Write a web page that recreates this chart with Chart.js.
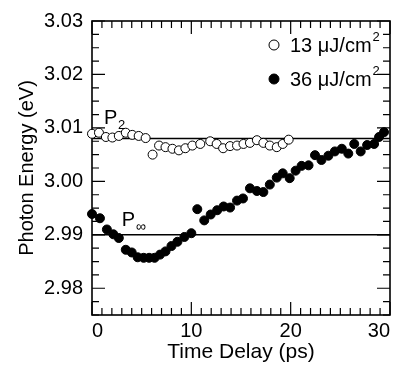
<!DOCTYPE html>
<html>
<head>
<meta charset="utf-8">
<script src="https://cdn.jsdelivr.net/npm/chart.js@4/dist/chart.umd.min.js"></script>
<style>
html, body { margin: 0; padding: 0; background: #fff; }
</style>
</head>
<body>
<canvas id="chart" width="402" height="369"></canvas>
<script>
// 13 uJ/cm2 series (open circles)
var lowTime = [0.0, 0.7, 1.4, 2.05, 2.7, 3.4, 4.05, 4.7, 5.4, 6.1, 6.75, 7.4, 8.1, 8.75, 9.4,
  10.1, 10.9, 11.9, 12.55, 13.2, 13.9, 14.6, 15.25, 15.9, 16.6, 17.25, 17.9, 18.6, 19.2, 19.8];
var lowEnergy = [3.0089, 3.0091, 3.0083, 3.0082, 3.0085, 3.0091, 3.0087, 3.0085, 3.0081, 3.0050,
  3.0067, 3.0064, 3.0061, 3.0058, 3.0062, 3.0067, 3.0070, 3.0075, 3.0070, 3.0062, 3.0066, 3.0067,
  3.0070, 3.0072, 3.0077, 3.0072, 3.0067, 3.0064, 3.0070, 3.0078];

// 36 uJ/cm2 series (filled circles)
var highTime = [0.0, 0.8, 1.5, 2.15, 2.7, 3.4, 4.0, 4.6, 5.2, 5.75, 6.3, 6.85, 7.4, 8.0, 8.6, 9.3,
  10.0, 10.6, 11.3, 11.95, 12.6, 13.25, 13.9, 14.6, 15.2, 15.9, 16.6, 17.25, 17.9, 18.6, 19.2, 19.9,
  20.5, 21.1, 21.8, 22.45, 23.1, 23.8, 24.45, 25.15, 25.8, 26.4, 27.05, 27.7, 28.4, 28.9, 29.4];
var highEnergy = [2.9939, 2.9931, 2.9910, 2.9901, 2.9894, 2.9872, 2.9867, 2.9858, 2.9857, 2.9857,
  2.9857, 2.9863, 2.9869, 2.9879, 2.9887, 2.9896, 2.9903, 2.9948, 2.9927, 2.9938, 2.9946, 2.9953,
  2.9951, 2.9964, 2.9968, 2.9987, 2.9982, 2.9980, 2.9994, 3.0007, 3.0015, 3.0006, 3.0020, 3.0029,
  3.0030, 3.0049, 3.0040, 3.0048, 3.0056, 3.0061, 3.0052, 3.0070, 3.0056, 3.0068, 3.0070, 3.0083,
  3.0092];

// reference levels
var p2Level = 3.008;
var pInfLevel = 2.990;

// axes
var xTicks = [0, 10, 20, 30];
var yTicks = [2.98, 2.99, 3.00, 3.01, 3.02, 3.03];
var xRange = [0, 30];
var yRange = [2.975, 3.03];
var seriesLabels = ["13 \u03bcJ/cm", "36 \u03bcJ/cm"];

var FONT = "'Liberation Sans', Arial, sans-serif";

function toPoints(xs, ys) {
  return xs.map(function (x, i) { return { x: x, y: ys[i] }; });
}

// frame with inward ticks on all four sides
var frameTicks = {
  id: "frameTicks",
  beforeDatasetsDraw: function (chart) {
    var ctx = chart.ctx, a = chart.chartArea;
    var xs = chart.scales.x, ys = chart.scales.y;
    ctx.save();
    ctx.strokeStyle = "#000";
    ctx.lineWidth = 1.6;
    ctx.strokeRect(a.left, a.top, a.right - a.left, a.bottom - a.top);
    ctx.lineWidth = 1.2;
    ctx.beginPath();
    for (var t = xRange[0]; t <= xRange[1]; t++) {
      var px = xs.getPixelForValue(t);
      var len = t % 10 === 0 ? 13 : 7;
      ctx.moveTo(px, a.bottom); ctx.lineTo(px, a.bottom - len);
      ctx.moveTo(px, a.top); ctx.lineTo(px, a.top + len);
    }
    for (var k = 0; k <= 22; k++) {
      var py = ys.getPixelForValue(yRange[0] + k * 0.0025);
      var ylen = (k >= 2 && (k - 2) % 4 === 0) ? 13 : 7;
      ctx.moveTo(a.left, py); ctx.lineTo(a.left + ylen, py);
      ctx.moveTo(a.right, py); ctx.lineTo(a.right - ylen, py);
    }
    ctx.stroke();
    ctx.restore();
  },
  afterDraw: function (chart) {
    var ctx = chart.ctx;
    var xs = chart.scales.x, ys = chart.scales.y;
    ctx.save();
    ctx.fillStyle = "#000";
    ctx.textBaseline = "alphabetic";
    ctx.textAlign = "left";

    // legend
    var rows = [45, 79];
    var lx = 274, tx = 290;
    chart.data.datasets.slice(0, 2).forEach(function (ds, i) {
      var y = rows[i];
      ctx.beginPath();
      ctx.arc(lx, y, 5, 0, Math.PI * 2);
      ctx.fillStyle = ds.pointBackgroundColor;
      ctx.fill();
      ctx.lineWidth = 1;
      ctx.strokeStyle = "#000";
      ctx.stroke();
      ctx.fillStyle = "#000";
      ctx.font = "20px " + FONT;
      ctx.fillText(ds.label, tx, y + 7);
      var w = ctx.measureText(ds.label).width;
      ctx.font = "13px " + FONT;
      ctx.fillText("2", tx + w + 1, y - 4);
    });

    // P2 and P-infinity labels
    ctx.font = "20px " + FONT;
    var p2x = xs.getPixelForValue(1.2), p2y = ys.getPixelForValue(p2Level) - 15;
    ctx.fillText("P", p2x, p2y);
    ctx.font = "13px " + FONT;
    ctx.fillText("2", p2x + 14, p2y + 5);

    ctx.font = "20px " + FONT;
    var pix = xs.getPixelForValue(3.0), piy = ys.getPixelForValue(pInfLevel) - 9;
    ctx.fillText("P", pix, piy);
    ctx.font = "14px " + FONT;
    ctx.fillText("\u221e", pix + 14, piy + 5);
    ctx.restore();
  }
};

var ctx = document.getElementById("chart");

var chart = new Chart(ctx, {
  type: "scatter",
  data: {
    datasets: [
      {
        label: seriesLabels[0],
        data: toPoints(lowTime, lowEnergy),
        pointRadius: 4.5,
        pointBackgroundColor: "#fff",
        pointBorderColor: "#000",
        pointBorderWidth: 1,
        clip: false
      },
      {
        label: seriesLabels[1],
        data: toPoints(highTime, highEnergy),
        pointRadius: 4.5,
        pointBackgroundColor: "#000",
        pointBorderColor: "#000",
        pointBorderWidth: 1,
        clip: false
      },
      {
        label: "P2",
        data: [{ x: xRange[0], y: p2Level }, { x: xRange[1], y: p2Level }],
        showLine: true,
        borderColor: "#000",
        borderWidth: 1.5,
        pointRadius: 0
      },
      {
        label: "Pinf",
        data: [{ x: xRange[0], y: pInfLevel }, { x: xRange[1], y: pInfLevel }],
        showLine: true,
        borderColor: "#000",
        borderWidth: 1.5,
        pointRadius: 0
      }
    ]
  },
  options: {
    responsive: false,
    animation: false,
    devicePixelRatio: 1,
    layout: { padding: { left: 0, top: 17, right: 12, bottom: 0 } },
    plugins: {
      legend: { display: false },
      tooltip: { enabled: false }
    },
    scales: {
      x: {
        type: "linear",
        min: xRange[0],
        max: xRange[1],
        grid: { display: false, drawTicks: false },
        border: { display: false },
        afterBuildTicks: function (scale) {
          scale.ticks = xTicks.map(function (v) { return { value: v }; });
        },
        afterFit: function (scale) { scale.height = 54; },
        ticks: {
          align: "inner",
          padding: 4,
          color: "#000",
          font: { family: FONT, size: 20 },
          callback: function (v) { return String(v); }
        },
        title: {
          display: true,
          text: "Time Delay (ps)",
          color: "#000",
          font: { family: FONT, size: 21 },
          padding: { top: 4, bottom: 4 }
        }
      },
      y: {
        type: "linear",
        min: yRange[0],
        max: yRange[1],
        grid: { display: false, drawTicks: false },
        border: { display: false },
        afterBuildTicks: function (scale) {
          scale.ticks = yTicks.map(function (v) { return { value: v }; });
        },
        afterFit: function (scale) { scale.width = 92; },
        ticks: {
          padding: 9,
          color: "#000",
          font: { family: FONT, size: 20 },
          callback: function (v) { return v.toFixed(2); }
        },
        title: {
          display: true,
          text: "Photon Energy (eV)",
          color: "#000",
          font: { family: FONT, size: 20 },
          padding: { top: 15, bottom: 0 }
        }
      }
    }
  },
  plugins: [frameTicks]
});
</script>
</body>
</html>
